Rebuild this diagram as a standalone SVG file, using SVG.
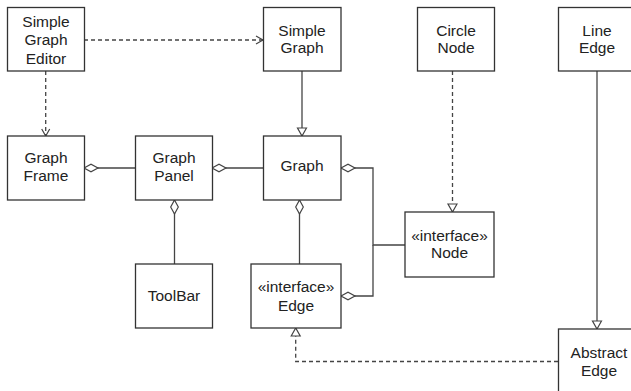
<svg xmlns="http://www.w3.org/2000/svg" width="631" height="391" viewBox="0 0 631 391">
<style>
.box{fill:#fff;stroke:#333;stroke-width:1.3}
.t{font-family:"Liberation Sans",Arial,sans-serif;font-size:15.5px;fill:#222;text-anchor:middle}
.c{fill:none;stroke:#444;stroke-width:1.3}
.d{stroke-dasharray:4,3}
</style>
<defs>
<marker id="dia" markerUnits="userSpaceOnUse" markerWidth="16" markerHeight="10" refX="0" refY="0" viewBox="-1 -5 16 10" orient="auto" overflow="visible"><path d="M0,0 L7,-3.8 L14,0 L7,3.8 Z" fill="#fff" stroke="#444" stroke-width="1.2"/></marker>
<marker id="tri" markerUnits="userSpaceOnUse" markerWidth="10" markerHeight="10" refX="8" refY="0" viewBox="-1 -5 10 10" orient="auto" overflow="visible"><path d="M0,-4.5 L8,0 L0,4.5 Z" fill="#fff" stroke="#444" stroke-width="1.2"/></marker>
<marker id="opn" markerUnits="userSpaceOnUse" markerWidth="10" markerHeight="10" refX="7" refY="0" viewBox="-1 -5 10 10" orient="auto" overflow="visible"><path d="M0,-4 L7,0 L0,4" fill="none" stroke="#444" stroke-width="1.2"/></marker>
</defs>
<g id="connectors">
<path class="c d" d="M84,40 H263" marker-end="url(#opn)"/>
<path class="c d" d="M45.7,71 V136" marker-end="url(#opn)"/>
<path class="c" d="M302,71 V136" marker-end="url(#tri)"/>
<path class="c" d="M84,168 H135" marker-start="url(#dia)"/>
<path class="c" d="M212,168 H263" marker-start="url(#dia)"/>
<path class="c" d="M174.5,200 V264" marker-start="url(#dia)"/>
<path class="c" d="M299.5,200 V264" marker-start="url(#dia)"/>
<path class="c" d="M341,168 H373 V245 H405" marker-start="url(#dia)"/>
<path class="c" d="M341,296 H373 V245" marker-start="url(#dia)"/>
<path class="c d" d="M452.5,71 V212" marker-end="url(#tri)"/>
<path class="c" d="M597,71 V329" marker-end="url(#tri)"/>
<path class="c d" d="M558,361.5 H295.7 V328" marker-end="url(#tri)"/>
</g>
<g id="SimpleGraphEditor"><rect class="box" x="7.5" y="7.5" width="77" height="63.5"/><text class="t" x="46" y="27">Simple</text><text class="t" x="46" y="45">Graph</text><text class="t" x="46" y="63.5">Editor</text></g>
<g id="SimpleGraph"><rect class="box" x="263.5" y="7.5" width="77.5" height="63.5"/><text class="t" x="302" y="35.7">Simple</text><text class="t" x="302" y="53.2">Graph</text></g>
<g id="CircleNode"><rect class="box" x="417.5" y="7.5" width="77" height="63.5"/><text class="t" x="456" y="35.7">Circle</text><text class="t" x="456" y="53.2">Node</text></g>
<g id="LineEdge"><rect class="box" x="558.5" y="7.5" width="77" height="63.5"/><text class="t" x="597" y="35.7">Line</text><text class="t" x="597" y="53.2">Edge</text></g>
<g id="GraphFrame"><rect class="box" x="7.5" y="136" width="77" height="64"/><text class="t" x="46" y="163">Graph</text><text class="t" x="46" y="181">Frame</text></g>
<g id="GraphPanel"><rect class="box" x="135.5" y="136" width="77" height="64"/><text class="t" x="174" y="163">Graph</text><text class="t" x="174" y="181">Panel</text></g>
<g id="Graph"><rect class="box" x="263.5" y="136" width="77.5" height="64"/><text class="t" x="302" y="171">Graph</text></g>
<g id="ToolBar"><rect class="box" x="135.5" y="264" width="77" height="64"/><text class="t" x="174" y="300.5">ToolBar</text></g>
<g id="Edge"><rect class="box" x="251" y="264" width="90" height="64"/><text class="t" x="296" y="292">«interface»</text><text class="t" x="296" y="310.5">Edge</text></g>
<g id="Node"><rect class="box" x="405" y="212" width="89" height="65"/><text class="t" x="449.5" y="240.5">«interface»</text><text class="t" x="449.5" y="258">Node</text></g>
<g id="AbstractEdge"><rect class="box" x="558.5" y="329" width="80" height="64"/><text class="t" x="599" y="357.5">Abstract</text><text class="t" x="599" y="375.5">Edge</text></g>
</svg>
